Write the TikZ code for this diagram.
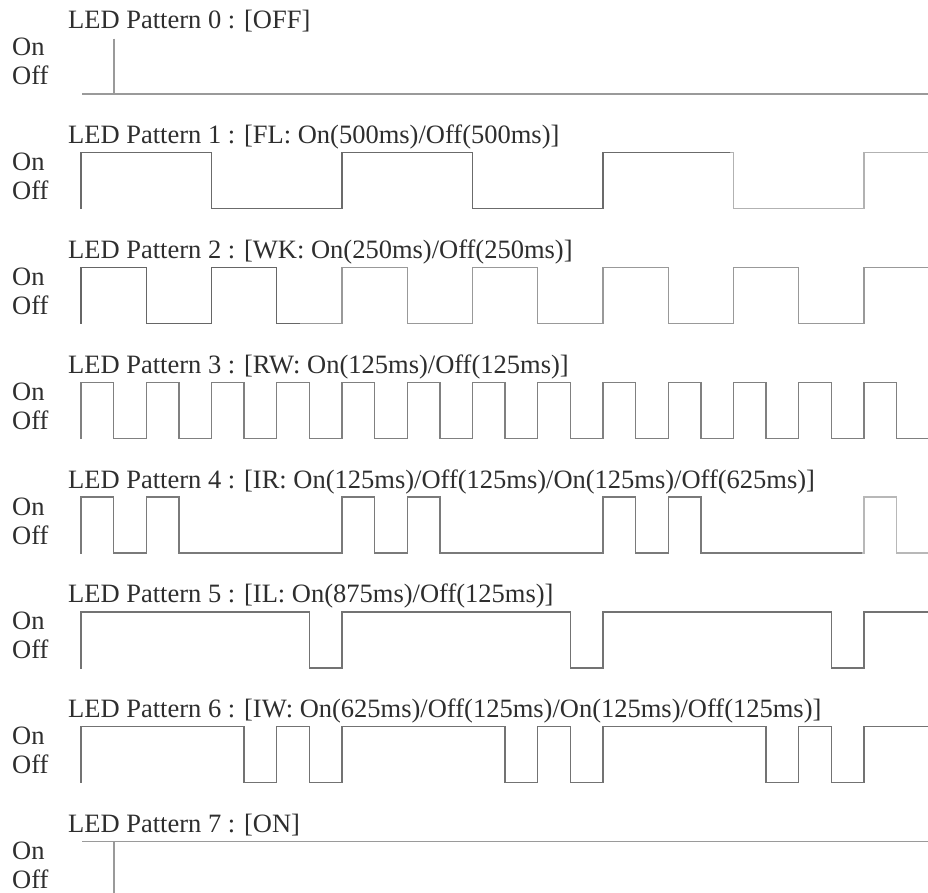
\documentclass[tikz,border=0pt]{standalone}
\usepackage{fontspec}
\setmainfont{Liberation Serif}
\definecolor{txtc}{HTML}{2E2E2E}
\definecolor{gridc}{HTML}{9A9A9A}
\newcommand\wavedraw[5]{%
  \pgfmathsetmacro\yon{37.9+114.8*#1}%
  \pgfmathsetmacro\yoff{\yon+56}%
  \draw[wave,draw=#5] (81,\yoff) \foreach \p in {0,...,#3} { \foreach \a/\b in {#4} {
      -- ({81+0.261*(\p*#2+\a)},\yoff) -- ({81+0.261*(\p*#2+\a)},\yon)
      -- ({81+0.261*(\p*#2+\b)},\yon) -- ({81+0.261*(\p*#2+\b)},\yoff) } }
    -- (945,\yoff);
}
\newcommand\wavetwo[7]{%
  \begin{scope}\clip (0,0) rectangle (#6,893); \wavedraw{#1}{#2}{#3}{#4}{#5}\end{scope}
  \begin{scope}\clip (#6,0) rectangle (928,893); \wavedraw{#1}{#2}{#3}{#4}{#7}\end{scope}
}
\begin{document}
\begin{tikzpicture}[x=1pt,y=-1pt,
  lbl/.style={anchor=base west, inner sep=0pt, text=txtc, font=\fontsize{26.5}{30}\selectfont},
  wave/.style={line width=1.3pt, line join=miter, line cap=rect}]
\useasboundingbox (0,0) rectangle (928,893);
\clip (0,0) rectangle (928,893);
\fill[white] (0,0) rectangle (928,893);

% labels
\foreach \k/\t in {0/{LED Pattern 0 : [OFF]},
                   1/{LED Pattern 1 : [FL: On(500ms)/Off(500ms)]},
                   2/{LED Pattern 2 : [WK: On(250ms)/Off(250ms)]},
                   3/{LED Pattern 3 : [RW: On(125ms)/Off(125ms)]},
                   4/{LED Pattern 4 : [IR: On(125ms)/Off(125ms)/On(125ms)/Off(625ms)]},
                   5/{LED Pattern 5 : [IL: On(875ms)/Off(125ms)]},
                   6/{LED Pattern 6 : [IW: On(625ms)/Off(125ms)/On(125ms)/Off(125ms)]},
                   7/{LED Pattern 7 : [ON]}} {
  \pgfmathsetmacro\yb{37.9+114.8*\k}
  \node[lbl] (title\k) at (68,\yb-9) {\t};
  \node[lbl] (on\k) at (12,\yb+18) {On};
  \node[lbl] (off\k) at (12,\yb+47) {Off};
}

% pattern 0: always off
\draw[wave,draw=gridc,line cap=butt] (114,38.6) -- (114,93.9);
\draw[wave,draw=gridc,line cap=butt] (82,93.9) -- (928,93.9);

% pattern 7: always on
\draw[wave,draw=gridc,line cap=butt] (82,841.5) -- (928,841.5);
\draw[wave,draw=gridc,line cap=butt] (114,841.5) -- (114,893);

% pattern 1
\wavetwo{1}{1000}{3}{0/500}{black!58}{730.5}{black!30}
% pattern 2
\wavetwo{2}{500}{6}{0/250}{black!60}{300}{black!40}
% pattern 3
\wavetwo{3}{250}{12}{0/125}{black!50}{928}{black!50}
% pattern 4
\wavetwo{4}{1000}{3}{0/125,250/375}{black!52}{862}{black!28}
% pattern 5
\wavetwo{5}{1000}{3}{0/875}{black!55}{928}{black!55}
% pattern 6
\wavetwo{6}{1000}{3}{0/625,750/875}{black!55}{928}{black!55}
\end{tikzpicture}
\end{document}
